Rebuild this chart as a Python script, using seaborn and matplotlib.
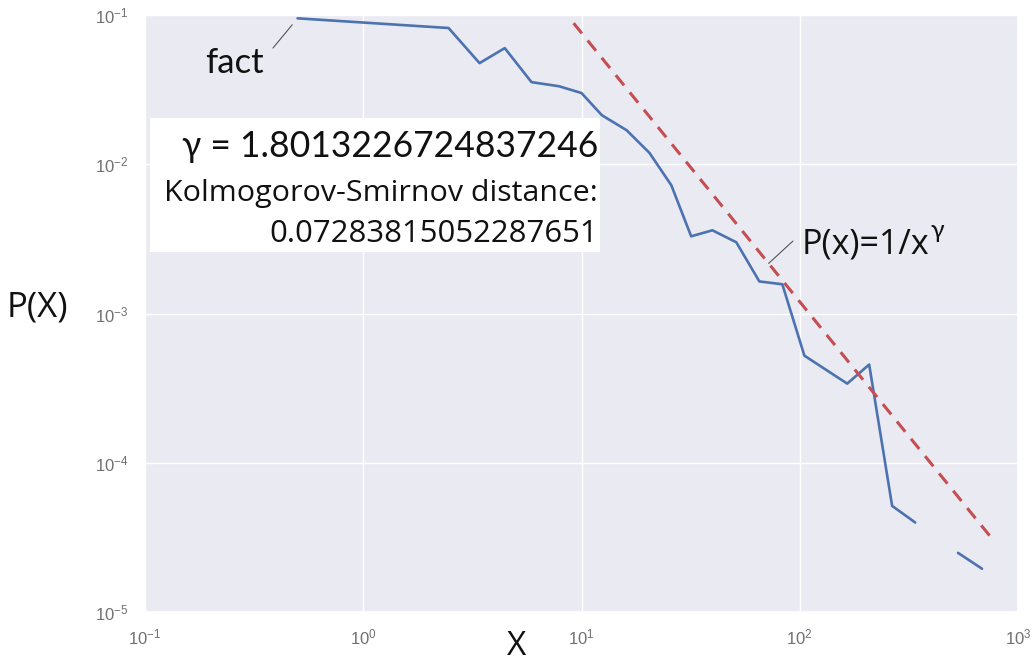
import numpy as np
import pandas as pd
import matplotlib
matplotlib.use("Agg")
import matplotlib.pyplot as plt
import seaborn as sns

# Empirical distribution P(X), log-binned
x_main = [0.50, 2.46, 3.41, 4.45, 5.9, 7.9, 10.0, 12.4, 16.1, 20.5, 25.8, 31.8,
          39.8, 51.2, 65.3, 83.2, 105, 165, 208, 265, 338]
p_main = [0.095, 0.0818, 0.0476, 0.060, 0.0355, 0.0333, 0.030, 0.0213, 0.0169,
          0.0119, 0.00723, 0.00329, 0.00361, 0.0030, 0.00164, 0.00157, 0.000522,
          0.000339, 0.000455, 5.14e-5, 3.98e-5]
# bins after an empty bin
x_tail = [531, 684]
p_tail = [2.49e-5, 1.95e-5]

# Power-law fit
gamma = 1.8013226724837246
ks_distance = 0.07283815052287651
fit_norm = 4.8
fit_x = [9.2, 760]

xticks = [0.1, 1, 10, 100, 1000]
yticks = [1e-5, 1e-4, 1e-3, 1e-2, 1e-1]

W, H = 1036, 664
sns.set_theme(style="darkgrid")
sans = ["Open Sans", "DejaVu Sans"]
greek = ["Lato", "DejaVu Sans"]
plt.rcParams["font.family"] = sans

fig = plt.figure(figsize=(W / 100, H / 100), dpi=100)
ax = fig.add_axes([145 / W, 1 - 612 / H, 873 / W, 597 / H])
ax.set(xscale="log", yscale="log")


def fxy(px, py):
    return (px / W, 1 - py / H)


emp = pd.DataFrame({
    "x": x_main + x_tail,
    "p": p_main + p_tail,
    "segment": [0] * len(x_main) + [1] * len(x_tail),
})
sns.lineplot(data=emp, x="x", y="p", units="segment", estimator=None,
             sort=False, color="#4C72B0", lw=1.9, ax=ax)

fit = pd.DataFrame({"x": fit_x})
fit["p"] = fit_norm * fit["x"] ** (-gamma)
sns.lineplot(data=fit, x="x", y="p", color="#C44E52", lw=2.2,
             ls=(0, (4.3, 3.0)), ax=ax)

ax.set_xlim(0.1, 1000)
ax.set_ylim(1e-5, 1e-1)
ax.set_xticks(xticks)
ax.set_yticks(yticks)
ax.minorticks_off()
ax.set_xlabel("")
ax.set_ylabel("")
ax.tick_params(axis="both", labelsize=12, labelcolor="#707070",
               labelfontfamily="Liberation Sans", length=0)
ax.tick_params(axis="y", pad=12)
ax.tick_params(axis="x", pad=11)

ink = "#111111"

# Axis titles
fig.text(*fxy(7, 317), "P(X)", fontsize=25, color=ink,
         ha="left", va="baseline")
fig.text(*fxy(517, 663), "X", fontsize=24, color=ink,
         ha="center", va="bottom")

# Fit summary box
box = plt.Rectangle(fxy(150, 252), 450 / W, 134 / H, transform=fig.transFigure,
                    facecolor="white", edgecolor="none", zorder=5)
fig.patches.append(box)
fig.text(*fxy(598, 157), f"γ = {gamma}", fontsize=25.6, color=ink,
         ha="right", va="baseline", zorder=6, family=greek)
fig.text(*fxy(598, 201), "Kolmogorov-Smirnov distance:", fontsize=21.9,
         color=ink, ha="right", va="baseline", zorder=6)
fig.text(*fxy(598, 242), f"{ks_distance}", fontsize=22.4, color=ink,
         ha="right", va="baseline", zorder=6)

# Labels with leader lines
fig.text(*fxy(205, 73), "fact", fontsize=25, color=ink,
         ha="left", va="baseline", family=greek)
ax.annotate("", xy=(x_main[0], p_main[0]), xycoords="data",
            xytext=fxy(273, 48), textcoords="figure fraction",
            arrowprops=dict(arrowstyle="-", color="#555555", lw=0.8,
                            shrinkA=0, shrinkB=6))

law = fig.text(*fxy(802, 253), "P(x)=1/x", fontsize=24.5, color=ink,
               ha="left", va="baseline")
ax.annotate("γ", xy=(1.0, 1.0), xycoords=law, xytext=(0.5, 6),
            textcoords="offset points", fontsize=18, color=ink,
            ha="left", va="top", family=greek)
x_lbl = 72
ax.annotate("", xy=(x_lbl, fit_norm * x_lbl ** (-gamma)), xycoords="data",
            xytext=fxy(793, 241), textcoords="figure fraction",
            arrowprops=dict(arrowstyle="-", color="#555555", lw=0.8,
                            shrinkA=0, shrinkB=0))

fig.savefig("out.png", dpi=100)
